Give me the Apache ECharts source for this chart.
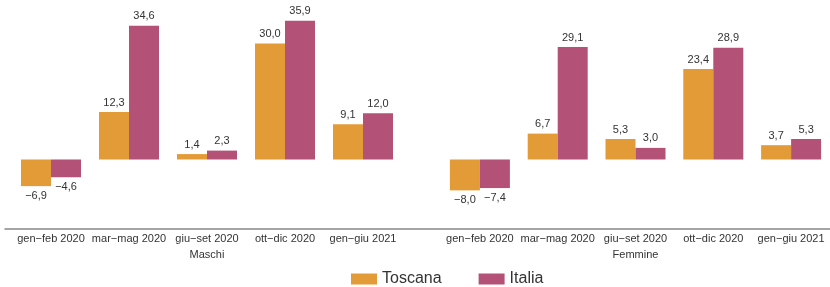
<!DOCTYPE html>
<html>
<head>
<meta charset="utf-8">
<script src="https://cdn.jsdelivr.net/npm/echarts@6/dist/echarts.min.js"></script>
<style>
  html, body { margin: 0; padding: 0; background: #fff; }
  #chart { width: 830px; height: 287px; }
</style>
</head>
<body>
<div id="chart"></div>
<script>
// periodi e valori (variazioni %)
const periodi = ['gen−feb 2020', 'mar−mag 2020', 'giu−set 2020', 'ott−dic 2020', 'gen−giu 2021']
const maschiToscana = [-6.9, 12.3, 1.4, 30.0, 9.1]
const maschiItalia = [-4.6, 34.6, 2.3, 35.9, 12.0]
const femmineToscana = [-8.0, 6.7, 5.3, 23.4, 3.7]
const femmineItalia = [-7.4, 29.1, 3.0, 28.9, 5.3]

const COL_TOSCANA = '#E39B37'
const COL_ITALIA = '#B35176'
const TXT = '#333'
const FONT = 'Liberation Sans, Arial, sans-serif'

const chart = echarts.init(document.getElementById('chart'))

function fmt (v) {
  return v.toFixed(1).replace('.', ',').replace('-', '−')
}

// label sopra per positivi, sotto per negativi
function toData (arr) {
  return arr.map(v => ({
    value: v,
    label: { position: v < 0 ? 'bottom' : 'top' }
  }))
}

function barSeries (name, arr, color, idx) {
  return {
    name: name,
    type: 'bar',
    xAxisIndex: idx,
    yAxisIndex: idx,
    data: toData(arr),
    barWidth: 30,
    barGap: '0%',
    itemStyle: { color: color },
    label: {
      show: true,
      distance: 4,
      color: TXT,
      fontSize: 11,
      fontFamily: FONT,
      formatter: p => fmt(p.value)
    }
  }
}

function catAxis (idx, name) {
  return {
    type: 'category',
    gridIndex: idx,
    data: periodi,
    name: name,
    nameLocation: 'middle',
    nameGap: 20,
    nameTextStyle: { color: TXT, fontSize: 11, fontFamily: FONT },
    axisLine: { show: false, onZero: false },
    axisTick: { show: false },
    axisLabel: { color: TXT, fontSize: 11, fontFamily: FONT, margin: 4, interval: 0 }
  }
}

function valAxis (idx) {
  return {
    type: 'value',
    gridIndex: idx,
    min: -18,
    max: 40,
    show: false
  }
}

const option = {
  animation: false,
  textStyle: { fontFamily: FONT },
  grid: [
    { left: 12, width: 390, top: 5, height: 224 },
    { left: 441, width: 390, top: 5, height: 224 },
    // griglia solo per la linea dell'asse continua
    { left: 5, right: 0, top: 5, height: 224 }
  ],
  xAxis: [
    catAxis(0, 'Maschi'),
    catAxis(1, 'Femmine'),
    {
      type: 'value',
      gridIndex: 2,
      min: 0,
      max: 1,
      axisLine: { show: true, onZero: false, lineStyle: { color: '#888', width: 1.5 } },
      axisTick: { show: false },
      axisLabel: { show: false },
      splitLine: { show: false }
    }
  ],
  yAxis: [valAxis(0), valAxis(1), valAxis(2)],
  legend: {
    data: ['Toscana', 'Italia'],
    left: 346,
    top: 266,
    itemWidth: 26,
    itemHeight: 11,
    itemGap: 37,
    itemTextGap: 4,
    icon: 'rect',
    textStyle: { color: TXT, fontSize: 16, fontFamily: FONT }
  },
  series: [
    barSeries('Toscana', maschiToscana, COL_TOSCANA, 0),
    barSeries('Italia', maschiItalia, COL_ITALIA, 0),
    barSeries('Toscana', femmineToscana, COL_TOSCANA, 1),
    barSeries('Italia', femmineItalia, COL_ITALIA, 1)
  ]
}

chart.setOption(option)
</script>
</body>
</html>
